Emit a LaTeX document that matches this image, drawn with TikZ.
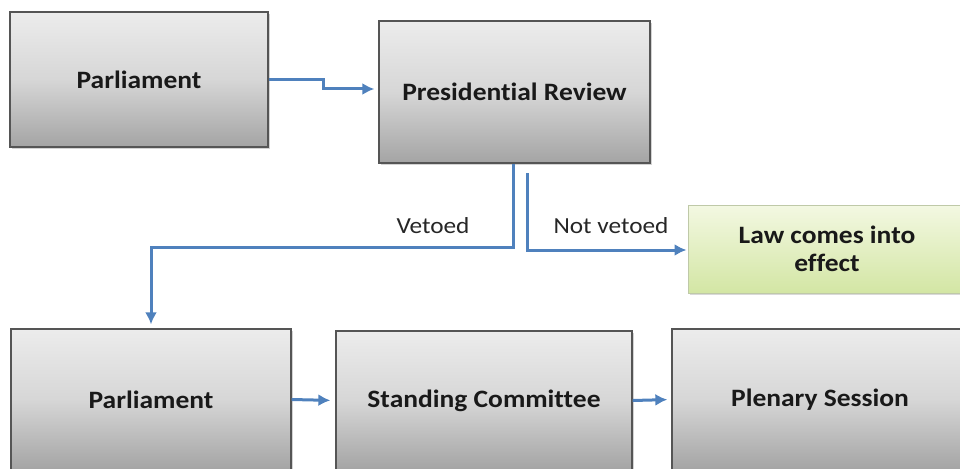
\documentclass[tikz,border=0pt]{standalone}
\usepackage{fontspec}
\setmainfont[FakeStretch=1.1, Ligatures=NoCommon]{Carlito}
\usetikzlibrary{shadows,arrows.meta}
\definecolor{flowblue}{HTML}{4F81BD}
\definecolor{boxedge}{HTML}{555555}
\definecolor{graytop}{HTML}{ECECEC}
\definecolor{graybottom}{HTML}{A4A4A4}
\definecolor{greentop}{HTML}{F3F8E2}
\definecolor{greenbottom}{HTML}{D3E6A4}
\definecolor{greenedge}{HTML}{BFC9A8}
\tikzset{
  graybox/.style={draw=boxedge, line width=1.3pt, rectangle,
    top color=graytop, bottom color=graybottom, middle color=graytop!70!graybottom,
    drop shadow={shadow xshift=2pt, shadow yshift=-2pt, opacity=0.35},
    font=\fontsize{25}{30}\selectfont\bfseries, text=black!90, align=center},
  greenbox/.style={draw=greenedge, line width=1pt, rectangle,
    top color=greentop, bottom color=greenbottom,
    drop shadow={shadow xshift=2pt, shadow yshift=-2pt, opacity=0.3},
    font=\fontsize{25}{28}\selectfont\bfseries, text=black!90, align=center},
  flow/.style={draw=flowblue, line width=3pt, -{Latex[length=12pt,width=12pt]}},
  lbl/.style={font=\fontsize{23}{28}\selectfont, text=black!85}
}
\begin{document}
\begin{tikzpicture}[x=1pt,y=-1pt]
\useasboundingbox (0,0) rectangle (960,468);
\clip (0,0) rectangle (960,468);

% upper row
\node[graybox, minimum width=258pt, minimum height=135pt] (parl) at (139,79.5) {Parliament};
\node[graybox, minimum width=271pt, minimum height=142pt] (pr) at (514.5,92) {Presidential Review};
\node[greenbox, minimum width=278pt, minimum height=88pt] (law) at (827,249) {Law comes into\\effect};

% lower row
\node[graybox, minimum width=280pt, minimum height=141pt] (bparl) at (151,399.5) {Parliament};
\node[graybox, minimum width=296pt, minimum height=139pt] (stand) at (484,400.5) {Standing Committee};
\node[graybox, minimum width=296pt, minimum height=141pt] (plen) at (820,399.5) {Plenary Session};

% bend points
\coordinate (bend1) at (323,89);
\coordinate (vdrop) at (513,247);
\coordinate (nstart) at (527,173);
\coordinate (nbend) at (527,250);

% connectors
\draw[flow, shorten >=4pt] (parl.east) -| (bend1) -- (bend1 -| pr.west);
\draw[flow, shorten >=4pt] (pr.south -| vdrop) -- (vdrop) -| (bparl.north);
\draw[flow, shorten >=1pt] (nstart) -- (nbend) -- (nbend -| law.west);
\draw[flow, shorten >=5pt] (bparl.east) -- (stand.west);
\draw[flow, shorten >=4pt] (stand.east) -- (plen.west);

% branch labels
\node[lbl] (vlabel) at (433,226) {Vetoed};
\node[lbl] (nvlabel) at (611,226) {Not vetoed};
\end{tikzpicture}
\end{document}
